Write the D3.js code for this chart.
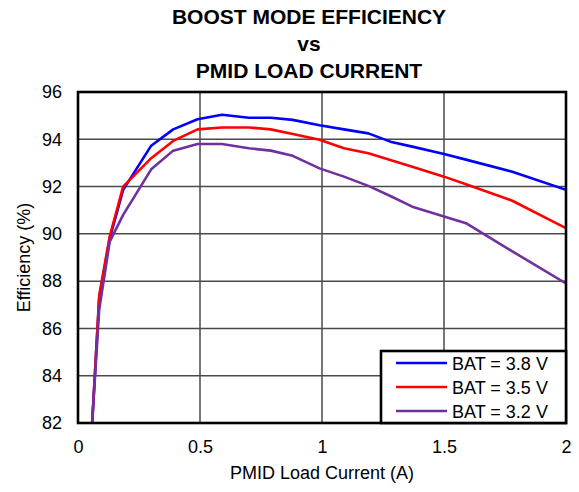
<!DOCTYPE html>
<html>
<head>
<meta charset="utf-8">
<script src="https://cdn.jsdelivr.net/npm/d3@7"></script>
<style>
  body { margin: 0; background: #fff; }
  text { font-family: "Liberation Sans", Arial, sans-serif; fill: #000; }
</style>
</head>
<body>
<div id="chart"></div>
<script>
// data
var loadCurrent = [0.058, 0.087, 0.13, 0.185, 0.3, 0.39, 0.49, 0.59, 0.7, 0.79, 0.88, 0.99, 1.09, 1.19, 1.28, 1.37, 1.5, 1.59, 1.78, 2.0];
var bat38 = [82, 87.3, 89.8, 91.86, 93.73, 94.42, 94.85, 95.04, 94.91, 94.91, 94.82, 94.59, 94.42, 94.25, 93.9, 93.69, 93.38, 93.14, 92.63, 91.86];
var bat35 = [82, 87.4, 89.9, 92.0, 93.2, 93.93, 94.42, 94.5, 94.5, 94.42, 94.22, 93.98, 93.62, 93.41, 93.12, 92.84, 92.42, 92.1, 91.4, 90.24];
var bat32 = [82, 86.8, 89.67, 90.8, 92.73, 93.52, 93.8, 93.8, 93.62, 93.52, 93.3, 92.77, 92.42, 92.03, 91.6, 91.15, 90.73, 90.45, 89.26, 87.9];
var seriesNames = ['BAT = 3.8 V', 'BAT = 3.5 V', 'BAT = 3.2 V'];
var seriesColors = ['#0000ff', '#ff0000', '#7030a0'];
var xTicks = [0, 0.5, 1, 1.5, 2];
var yTicks = [82, 84, 86, 88, 90, 92, 94, 96];
var titleLines = ['BOOST MODE EFFICIENCY', 'vs', 'PMID LOAD CURRENT'];

var svgWidth = 579,
	svgHeight = 492;

var margin = { top: 92, right: 13, bottom: 69, left: 78 };

var width = svgWidth - margin.left - margin.right,
	height = svgHeight - margin.top - margin.bottom;

var svg = d3.select('#chart')
	.append('svg')
	.attr('width', svgWidth)
	.attr('height', svgHeight);

var chartGroup = svg.append('g')
	.attr('transform', `translate(${margin.left},${margin.top})`);

var xScale = d3.scaleLinear().domain([0, 2]).range([0, width]);
var yScale = d3.scaleLinear().domain([82, 96]).range([height, 0]);

// grid lines
chartGroup.append('g')
	.selectAll('line')
	.data(xTicks.slice(1, -1))
	.enter()
	.append('line')
	.attr('x1', d => xScale(d)).attr('x2', d => xScale(d))
	.attr('y1', 0).attr('y2', height)
	.attr('stroke', '#4a4a4a')
	.attr('stroke-width', 1.5);

chartGroup.append('g')
	.selectAll('line')
	.data(yTicks.slice(1, -1))
	.enter()
	.append('line')
	.attr('x1', 0).attr('x2', width)
	.attr('y1', d => yScale(d)).attr('y2', d => yScale(d))
	.attr('stroke', '#4a4a4a')
	.attr('stroke-width', 1.5);

// axes (labels only, the frame is drawn separately)
var xAxis = chartGroup.append('g')
	.attr('transform', `translate(0,${height})`)
	.call(d3.axisBottom(xScale).tickValues(xTicks).tickSize(0).tickPadding(17).tickFormat(d3.format('')));
var yAxis = chartGroup.append('g')
	.call(d3.axisLeft(yScale).tickValues(yTicks).tickSize(0).tickPadding(16));

[xAxis, yAxis].forEach(a => {
	a.select('.domain').remove();
	a.selectAll('text')
		.style('font-size', '18px')
		.style('font-family', '"Liberation Sans", Arial, sans-serif')
		.attr('fill', '#000');
});

// curves
var clip = chartGroup.append('clipPath').attr('id', 'plotClip');
clip.append('rect').attr('width', width).attr('height', height);

var line = d3.line()
	.x((d, i) => xScale(loadCurrent[i]))
	.y(d => yScale(d));

[bat38, bat35, bat32].forEach((s, i) => {
	chartGroup.append('path')
		.datum(s)
		.attr('clip-path', 'url(#plotClip)')
		.attr('fill', 'none')
		.attr('stroke', seriesColors[i])
		.attr('stroke-width', 2.6)
		.attr('stroke-linejoin', 'round')
		.attr('d', line);
});

// plot frame
chartGroup.append('rect')
	.attr('width', width)
	.attr('height', height)
	.attr('fill', 'none')
	.attr('stroke', '#000')
	.attr('stroke-width', 2.6);

// legend
var legend = chartGroup.append('g')
	.attr('transform', `translate(${303},${259})`);

legend.append('rect')
	.attr('width', width - 303)
	.attr('height', height - 259)
	.attr('fill', '#fff')
	.attr('stroke', '#000')
	.attr('stroke-width', 2.6);

seriesNames.forEach((name, i) => {
	var row = legend.append('g').attr('transform', `translate(0,${12 + i * 24})`);
	row.append('line')
		.attr('x1', 15).attr('x2', 66)
		.attr('y1', 0).attr('y2', 0)
		.attr('stroke', seriesColors[i])
		.attr('stroke-width', 2.6);
	row.append('text')
		.attr('x', 71)
		.attr('y', 6.5)
		.style('font-size', '18px')
		.text(name);
});

// titles
svg.append('g')
	.selectAll('text')
	.data(titleLines)
	.enter()
	.append('text')
	.attr('x', 309)
	.attr('y', (d, i) => 24 + i * 27)
	.attr('text-anchor', 'middle')
	.style('font-size', '21px')
	.style('font-weight', 'bold')
	.text(d => d);

svg.append('text')
	.attr('x', margin.left + width / 2)
	.attr('y', 479)
	.attr('text-anchor', 'middle')
	.style('font-size', '18px')
	.text('PMID Load Current (A)');

svg.append('text')
	.attr('transform', `translate(30,${margin.top + height / 2})rotate(-90)`)
	.attr('text-anchor', 'middle')
	.style('font-size', '18px')
	.text('Efficiency (%)');
</script>
</body>
</html>
